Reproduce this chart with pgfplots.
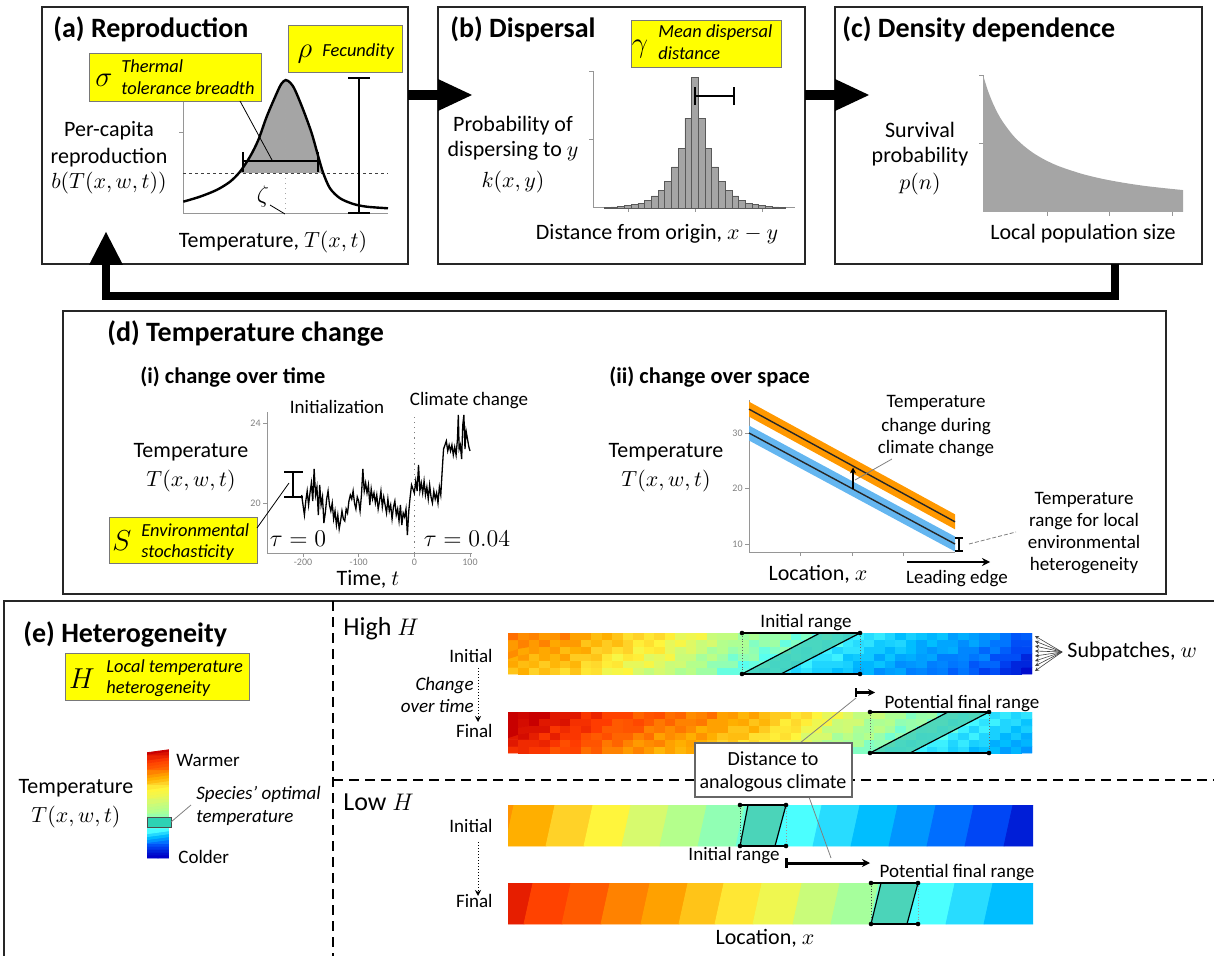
\documentclass[border=0pt]{standalone}
\usepackage{fontspec}
\setmainfont{Carlito}
\usepackage{pgfplots}
\pgfplotsset{compat=1.18}
\usepgfplotslibrary{patchplots}
\usetikzlibrary{arrows.meta}
\definecolor{fillgray}{RGB}{165,165,165}
\definecolor{ybox}{RGB}{255,255,0}
\definecolor{yedge}{RGB}{120,120,120}
\definecolor{bandblue}{RGB}{100,182,240}
\definecolor{bandorange}{RGB}{255,152,0}
\definecolor{rangeteal}{RGB}{70,205,180}
\definecolor{optteal}{RGB}{45,210,180}
\definecolor{axgray}{RGB}{150,150,150}
\pgfplotsset{
  colormap={hjet}{rgb255(0cm)=(0,0,200) rgb255(0.5cm)=(0,30,215) rgb255(1cm)=(0,70,245) rgb255(1.5cm)=(0,110,255) rgb255(2cm)=(0,150,255) rgb255(2.5cm)=(0,190,255) rgb255(3cm)=(40,220,255) rgb255(3.5cm)=(75,255,255) rgb255(4cm)=(145,255,180) rgb255(4.5cm)=(180,255,140) rgb255(5cm)=(215,250,110) rgb255(5.5cm)=(255,245,60) rgb255(6cm)=(255,210,40) rgb255(6.5cm)=(255,175,0) rgb255(7cm)=(255,140,0) rgb255(7.5cm)=(255,90,0) rgb255(8cm)=(255,60,0) rgb255(8.5cm)=(230,30,0) rgb255(9cm)=(200,0,0)},
  mini/.style={scale only axis, axis lines=left, axis line style={-, draw=axgray, line width=0.5pt},
    tick style={draw=axgray, line width=0.4pt}, tick align=outside, major tick length=2pt,
    clip=false, xticklabels={}, yticklabels={},
    ticklabel style={font=\fontsize{5}{6}\selectfont, text=gray, inner sep=1pt}},
  hm/.style={scale only axis, hide axis, colormap name=hjet, point meta min=0, point meta max=9},
}
\newcommand\ft{\fontsize{14}{16}\selectfont\bfseries}
\newcommand\fsub{\fontsize{11.2}{13}\selectfont\bfseries}
\newcommand\fl{\fontsize{11}{13}\selectfont}
\newcommand\fs{\fontsize{9.5}{11}\selectfont}
\newcommand\fy{\fontsize{9.2}{11}\selectfont\itshape}
\newcommand\fg{\fontsize{15}{17}\selectfont}
\tikzset{px/.style={x=0.5pt, y=-0.5pt}, L/.style={inner sep=0pt, anchor=base}, LW/.style={inner sep=0pt, anchor=base west},
  LE/.style={inner sep=0pt, anchor=base east}, yb/.style={fill=ybox, draw=yedge, line width=0.5pt}}
\begin{document}
\begin{tikzpicture}
\useasboundingbox (0pt,0pt) rectangle (607pt,-478pt);

% ================= (a) axis =================
\begin{axis}[mini, at={(91.5pt,-107pt)}, anchor=south west, width=102.5pt, height=57pt,
  xmin=0, xmax=10, ymin=0, ymax=1, xtick=\empty, ytick={0.72}]
\addplot[draw=none, fill=fillgray, smooth] coordinates {(2.78,0.36) (3.268,0.503) (3.673,0.649) (4.083,0.854) (4.571,1.059) (4.79,1.14) (5.010,1.175) (5.24,1.15) (5.463,1.088) (5.868,0.912) (6.278,0.708) (6.600,0.503) (6.844,0.36)} -- cycle;
\draw[gray!70, dotted, line width=0.5pt] (axis cs:5.01,0) -- (axis cs:5.01,1.17);
\draw[black!75, dash pattern=on 1.5pt off 1.5pt, line width=0.4pt] (axis cs:0,0.36) -- (axis cs:10,0.36);
\addplot[black, line width=1.2pt, smooth] coordinates {(0.015,0.108) (0.829,0.152) (1.644,0.211) (2.293,0.283) (2.780,0.371) (3.268,0.503) (3.673,0.649) (4.083,0.854) (4.571,1.059) (4.79,1.14) (5.010,1.175) (5.24,1.15) (5.463,1.088) (5.868,0.912) (6.278,0.708) (6.600,0.503) (6.844,0.357) (7.171,0.225) (7.659,0.138) (8.307,0.088) (8.961,0.064) (10.0,0.050)};
\draw[line width=1.1pt] (axis cs:2.93,0.465) -- (axis cs:6.585,0.465);
\draw[line width=1.1pt] (axis cs:2.93,0.37) -- (axis cs:2.93,0.54);
\draw[line width=1.1pt] (axis cs:6.585,0.37) -- (axis cs:6.585,0.54);
\draw[line width=1pt] (axis cs:8.585,0.01) -- (axis cs:8.585,1.193);
\draw[line width=1pt] (axis cs:8.05,0.01) -- (axis cs:9.12,0.01);
\draw[line width=1pt] (axis cs:8.05,1.193) -- (axis cs:9.12,1.193);
\end{axis}

% ================= (b) axis =================
\begin{axis}[mini, at={(296.5pt,-104pt)}, anchor=south west, width=101pt, height=68.5pt,
  xmin=-15.2, xmax=14.9, ymin=0, ymax=1.046, xtick={-10,0,10}, ytick={0.52,1.046}]
\addplot[ybar, bar width=1, fill=fillgray, draw=black!65, line width=0.35pt] coordinates {(-13,0.005) (-12,0.008) (-11,0.012) (-10,0.018) (-9,0.027) (-8,0.038) (-7,0.061) (-6,0.092) (-5,0.137) (-4,0.206) (-3,0.313) (-2,0.458) (-1,0.687) (0,1.0) (1,0.687) (2,0.458) (3,0.313) (4,0.206) (5,0.137) (6,0.092) (7,0.061) (8,0.038) (9,0.027) (10,0.018) (11,0.012) (12,0.008) (13,0.005)};
\draw[line width=1pt] (axis cs:0,0.855) -- (axis cs:5.8,0.855);
\draw[line width=1pt] (axis cs:0,0.786) -- (axis cs:0,0.924);
\draw[line width=1pt] (axis cs:5.8,0.786) -- (axis cs:5.8,0.924);
\end{axis}

% ================= (c) axis =================
\begin{axis}[mini, at={(491.5pt,-106pt)}, anchor=south west, width=100pt, height=68.5pt,
  xmin=0, xmax=1, ymin=0, ymax=1, xtick={0.32,0.63,0.945}, ytick={0.5,1}]
\addplot[fill=fillgray, draw=none, smooth] coordinates {(0,1) (0.025,0.884) (0.05,0.792) (0.075,0.717) (0.1,0.656) (0.15,0.559) (0.2,0.488) (0.25,0.432) (0.3,0.388) (0.35,0.352) (0.4,0.323) (0.5,0.276) (0.6,0.241) (0.7,0.214) (0.8,0.192) (0.9,0.175) (1,0.16)} \closedcycle;
\end{axis}

% ================= (d)(i) axis =================
\begin{axis}[mini, at={(133.5pt,-276.5pt)}, anchor=south west, width=102.5pt, height=70.5pt,
  xmin=-264.7, xmax=103.6, ymin=17.5, ymax=24.55, xtick={-200,-100,0,100}, ytick={20,24},
  xticklabels={-200,-100,0,100}, yticklabels={20,24}]
\draw[gray, dotted, line width=0.6pt] (axis cs:0,17.5) -- (axis cs:0,24.4);
\addplot[black, line width=0.65pt] table {
-202.5 20.4
-200 19.9
-197.5 19.4
-195 20.1
-192.5 20.6
-190 19.9
-187.5 20.5
-185 21.0
-182.5 20.1
-180 21.7
-177.5 20.4
-175 20.8
-172.5 19.4
-170 20.9
-167.5 19.9
-165 20.3
-162.5 19.0
-160 19.5
-157.5 20.2
-155 20.6
-152.5 19.9
-150 19.6
-147.5 20.0
-145 19.2
-142.5 19.6
-140 18.9
-137.5 19.4
-135 18.7
-132.5 19.1
-130 19.6
-127.5 19.2
-125 19.1
-122.5 19.7
-120 19.5
-117.5 20.1
-115 20.4
-112.5 20.2
-110 20.6
-107.5 20.0
-105 19.7
-102.5 20.3
-100 20.1
-97.5 19.6
-95 20.4
-92.5 21.7
-90 20.6
-87.5 21.0
-85 20.5
-82.5 20.9
-80 19.9
-77.5 20.7
-75 20.2
-72.5 20.5
-70 20.0
-67.5 20.4
-65 19.7
-62.5 20.1
-60 20.6
-57.5 19.8
-55 20.3
-52.5 19.9
-50 19.5
-47.5 20.2
-45 19.6
-42.5 19.9
-40 19.2
-37.5 19.8
-35 20.1
-32.5 19.4
-30 19.7
-27.5 19.1
-25 19.9
-22.5 18.9
-20 19.5
-17.5 19.3
-15 19.7
-12.5 18.4
-10 19.6
-7.5 20.3
-5 20.9
-2.5 20.7
0 20.5
2.5 21.1
5 20.6
7.5 21.9
10 20.6
12.5 21.0
15 20.5
17.5 21.1
20 20.4
22.5 20.8
25 20.2
27.5 20.9
30 20.3
32.5 20.0
35 20.6
37.5 20.2
40 20.5
42.5 20.0
45 20.8
47.5 20.4
50 21.6
52.5 22.7
55 22.9
57.5 23.1
60 22.6
62.5 22.9
65 22.6
67.5 22.9
70 22.4
72.5 22.8
75 22.4
77.5 23.2
79 24.4
80.5 22.7
82.5 22.9
85 22.2
87 23.9
89 24.4
91 22.7
93 23.6
95.5 23.2
98 22.8
100 22.6
};
\draw[line width=1.2pt] (axis cs:-218,20.3) -- (axis cs:-218,21.55);
\draw[line width=1.2pt] (axis cs:-234,20.3) -- (axis cs:-200,20.3);
\draw[line width=1.2pt] (axis cs:-234,21.55) -- (axis cs:-200,21.55);
\end{axis}

% ================= (d)(ii) axis =================
\begin{axis}[mini, at={(374.5pt,-276pt)}, anchor=south west, width=103pt, height=76pt,
  xmin=0, xmax=4, ymin=8.56, ymax=35.95, xtick={1,2,3}, ytick={10,20,30}, yticklabels={10,20,30}]
\addplot[fill=bandorange, draw=none] coordinates {(0,35.65) (4,15.35) (4,12.65) (0,32.95)} -- cycle;
\addplot[fill=bandblue, draw=none] coordinates {(0,31.35) (4,11.35) (4,8.65) (0,28.65)} -- cycle;
\addplot[black!85, line width=0.7pt] coordinates {(0,34.3) (4,14)};
\addplot[black!85, line width=0.7pt] coordinates {(0,30) (4,10)};
\draw[-{Stealth[length=3pt,width=3pt]}, line width=0.6pt] (axis cs:2.02,19.9) -- (axis cs:2.02,23.8);
\draw[line width=1.2pt] (axis cs:4.08,8.74) -- (axis cs:4.08,11.08);
\draw[line width=1.2pt] (axis cs:4.0,8.74) -- (axis cs:4.16,8.74);
\draw[line width=1.2pt] (axis cs:4.0,11.08) -- (axis cs:4.16,11.08);
\end{axis}

% ================= colorbar =================
\begin{axis}[hm, at={(73.5pt,-429pt)}, anchor=south west, width=11pt, height=54.5pt,
  xmin=-0.5, xmax=1.5, ymin=-0.5, ymax=36.5]
\addplot[matrix plot*, mesh/cols=2, point meta=explicit] table[x expr={mod(\coordindex,2)}, y expr={floor(\coordindex/2)}, meta index=0, header=false, row sep=\\] {
0\\0\\0.25\\0.25\\0.55\\0.55\\0.85\\0.85\\1.15\\1.15\\1.55\\1.55\\2.0\\2.0\\2.45\\2.45\\2.95\\2.95\\3.45\\3.45\\
3.6\\3.6\\3.7\\3.7\\3.8\\3.8\\3.95\\3.95\\4.1\\4.1\\4.3\\4.3\\4.5\\4.5\\4.65\\4.65\\4.8\\4.8\\5.0\\5.0\\
5.15\\5.15\\5.3\\5.3\\5.4\\5.4\\5.5\\5.5\\5.7\\5.7\\6.0\\6.0\\6.3\\6.3\\6.5\\6.5\\6.8\\6.8\\7.1\\7.1\\
7.4\\7.4\\7.6\\7.6\\7.8\\7.8\\8.1\\8.1\\8.4\\8.4\\8.7\\8.7\\9.0\\9.0\\
};
\end{axis}

% ================= High H initial =================
\begin{axis}[hm, at={(254pt,-337pt)}, anchor=south west, width=262pt, height=20.5pt,
  xmin=-0.5, xmax=49.5, ymin=-0.5, ymax=5.5]
\addplot[matrix plot*, mesh/cols=50, point meta=explicit] table[x expr={mod(\coordindex,50)}, y expr={floor(\coordindex/50)}, meta index=0, header=false, row sep=\\] {
6.2\\6.5\\6.0\\6.3\\6.1\\5.8\\6.2\\5.7\\5.8\\5.3\\5.4\\5.5\\5.0\\4.7\\5.0\\4.8\\4.4\\4.6\\4.2\\4.2\\3.7\\3.7\\3.7\\3.4\\3.1\\3.5\\3.2\\2.9\\3.1\\2.8\\2.8\\2.5\\2.7\\2.3\\2.4\\1.9\\2.1\\2.2\\1.7\\1.8\\1.6\\1.7\\1.3\\1.6\\1.3\\0.9\\1.1\\0.7\\0.6\\0.2\\
6.6\\6.3\\6.4\\6.1\\6.4\\6.2\\6.4\\5.8\\5.9\\5.6\\5.7\\5.2\\5.2\\5.4\\5.1\\4.8\\4.9\\4.5\\4.5\\4.0\\4.0\\4.0\\3.6\\3.7\\3.8\\3.4\\3.4\\3.0\\3.3\\2.9\\2.9\\2.9\\2.8\\2.4\\2.4\\2.6\\2.3\\1.9\\2.0\\2.1\\1.7\\1.8\\1.6\\1.7\\1.2\\1.4\\1.4\\0.9\\0.6\\0.6\\
6.5\\6.8\\6.3\\6.6\\6.4\\6.7\\6.1\\6.1\\6.2\\5.7\\5.4\\5.7\\5.6\\5.1\\5.2\\5.4\\4.8\\4.8\\4.3\\4.6\\4.2\\3.8\\4.0\\4.1\\3.6\\3.6\\3.3\\3.6\\3.4\\3.1\\3.1\\3.3\\2.6\\2.7\\2.7\\2.2\\2.6\\2.2\\2.3\\2.1\\2.2\\1.7\\1.7\\1.8\\1.6\\1.8\\1.1\\1.1\\1.1\\0.6\\
7.0\\6.6\\6.8\\6.6\\6.8\\6.3\\6.5\\6.6\\6.0\\6.1\\5.8\\6.0\\5.4\\5.6\\5.7\\5.2\\4.9\\5.1\\4.8\\4.3\\4.5\\4.1\\4.3\\4.0\\3.7\\3.9\\4.0\\3.5\\3.3\\3.6\\3.3\\2.9\\3.1\\3.1\\2.7\\2.7\\2.4\\2.7\\2.5\\2.2\\2.0\\2.2\\2.3\\1.8\\1.8\\1.4\\1.7\\1.3\\1.0\\1.0\\
6.8\\7.1\\6.8\\7.1\\6.6\\6.8\\6.8\\6.2\\6.4\\6.1\\6.3\\6.0\\5.6\\5.8\\5.5\\5.2\\5.4\\5.1\\4.8\\5.0\\4.5\\4.4\\4.4\\3.9\\4.1\\4.2\\3.7\\3.9\\3.6\\3.6\\3.3\\3.6\\3.2\\3.0\\3.1\\2.7\\2.8\\2.9\\2.5\\2.2\\2.5\\2.2\\2.2\\1.9\\2.2\\1.9\\1.6\\1.6\\1.1\\1.1\\
7.3\\7.0\\7.1\\6.8\\6.9\\7.2\\6.7\\6.7\\6.3\\6.5\\6.2\\5.8\\6.0\\5.7\\5.9\\5.6\\5.2\\5.3\\5.4\\4.8\\4.7\\4.7\\4.2\\4.4\\4.1\\4.1\\4.2\\3.7\\3.9\\3.6\\3.9\\3.5\\3.1\\3.3\\3.0\\3.2\\2.9\\2.5\\2.8\\2.6\\2.4\\2.6\\2.1\\2.3\\2.1\\1.9\\2.0\\1.6\\1.2\\1.3\\
};
\end{axis}
% ================= High H final =================
\begin{axis}[hm, at={(254pt,-376.5pt)}, anchor=south west, width=262pt, height=20.5pt,
  xmin=-0.5, xmax=49.5, ymin=-0.5, ymax=5.5]
\addplot[matrix plot*, mesh/cols=50, point meta=explicit] table[x expr={mod(\coordindex,50)}, y expr={floor(\coordindex/50)}, meta index=0, header=false, row sep=\\] {
8.2\\8.3\\8.1\\8.1\\7.6\\7.8\\7.9\\7.3\\7.5\\7.1\\7.1\\6.8\\7.1\\6.8\\6.4\\6.7\\6.4\\6.6\\6.1\\6.2\\5.9\\6.0\\5.6\\5.7\\5.7\\5.1\\5.1\\5.2\\4.9\\4.5\\4.6\\4.2\\4.4\\3.9\\3.9\\3.9\\3.4\\3.4\\3.6\\3.3\\3.0\\3.2\\2.8\\3.0\\2.4\\2.6\\2.5\\2.1\\2.4\\2.0\\
8.6\\8.3\\8.3\\8.4\\8.1\\7.7\\8.0\\7.6\\7.6\\7.2\\7.4\\7.1\\6.8\\7.0\\7.1\\6.7\\6.5\\6.7\\6.5\\6.3\\6.0\\6.2\\5.7\\5.9\\5.6\\5.8\\5.4\\5.1\\5.2\\4.8\\4.4\\4.5\\4.3\\4.4\\3.9\\4.0\\4.1\\3.6\\3.3\\3.6\\3.3\\3.3\\2.9\\3.2\\2.8\\2.9\\2.3\\2.5\\2.2\\2.4\\
8.6\\8.8\\8.5\\8.1\\8.5\\8.1\\8.1\\7.7\\7.5\\7.7\\7.4\\7.4\\7.1\\7.3\\6.7\\7.0\\6.8\\6.5\\6.9\\6.5\\6.2\\6.3\\6.3\\5.8\\5.8\\5.6\\5.8\\5.5\\5.0\\5.0\\5.0\\4.3\\4.6\\4.3\\4.5\\4.1\\3.8\\4.0\\3.8\\3.3\\3.4\\3.6\\3.2\\2.9\\3.3\\2.9\\2.8\\2.4\\2.7\\2.3\\
9.0\\8.7\\8.7\\8.7\\8.1\\8.3\\8.1\\8.3\\8.0\\7.5\\7.5\\7.6\\7.6\\7.1\\7.2\\7.0\\7.2\\7.0\\6.5\\6.7\\6.7\\6.2\\6.2\\6.5\\6.1\\5.7\\5.7\\5.8\\5.3\\5.3\\4.7\\4.8\\4.9\\4.4\\4.3\\4.6\\4.3\\3.8\\4.1\\3.7\\3.8\\3.4\\3.7\\3.3\\2.9\\3.3\\2.8\\2.9\\2.5\\2.8\\
9.1\\8.8\\9.0\\8.6\\8.6\\8.7\\8.2\\8.2\\8.0\\8.0\\7.5\\7.6\\7.8\\7.5\\7.2\\7.4\\7.1\\7.1\\7.2\\6.7\\6.7\\6.5\\6.6\\6.2\\6.4\\6.1\\5.6\\5.9\\5.6\\5.3\\5.4\\4.8\\4.9\\4.9\\4.3\\4.4\\4.5\\4.0\\4.1\\4.2\\3.8\\3.8\\3.3\\3.6\\3.4\\3.1\\3.3\\2.9\\3.0\\2.6\\
9.3\\8.9\\9.0\\9.0\\8.6\\8.6\\8.6\\8.1\\8.4\\7.9\\7.9\\7.9\\7.4\\7.6\\7.7\\7.3\\7.4\\7.0\\7.1\\7.3\\6.7\\6.8\\6.4\\6.7\\6.3\\6.1\\6.1\\5.7\\5.9\\5.5\\5.2\\5.4\\5.1\\4.7\\4.7\\4.8\\4.4\\4.4\\3.9\\4.1\\4.2\\3.7\\3.8\\3.5\\3.8\\3.4\\3.0\\3.2\\2.9\\3.1\\
};
\end{axis}
% ================= Low H initial =================
\begin{axis}[hm, at={(254pt,-423pt)}, anchor=south west, width=262.5pt, height=20.5pt,
  xmin=508, xmax=1033, ymin=0, ymax=1]
\addplot[patch, patch type=rectangle, shader=flat, point meta=explicit] coordinates {
(486,0)[6.9] (505,0)[6.9] (514,1)[6.9] (495,1)[6.9]
(505,0)[6.5] (546,0)[6.5] (555,1)[6.5] (514,1)[6.5]
(546,0)[6.0] (584,0)[6.0] (593,1)[6.0] (555,1)[6.0]
(584,0)[5.5] (622,0)[5.5] (631,1)[5.5] (593,1)[5.5]
(622,0)[5.0] (660,0)[5.0] (669,1)[5.0] (631,1)[5.0]
(660,0)[4.5] (698,0)[4.5] (707,1)[4.5] (669,1)[4.5]
(698,0)[4.0] (736,0)[4.0] (745,1)[4.0] (707,1)[4.0]
(736,0)[3.75] (775,0)[3.75] (784,1)[3.75] (745,1)[3.75]
(775,0)[3.5] (813,0)[3.5] (822,1)[3.5] (784,1)[3.5]
(813,0)[3.0] (851,0)[3.0] (860,1)[3.0] (822,1)[3.0]
(851,0)[2.5] (889,0)[2.5] (898,1)[2.5] (860,1)[2.5]
(889,0)[2.0] (927,0)[2.0] (936,1)[2.0] (898,1)[2.0]
(927,0)[1.5] (965,0)[1.5] (974,1)[1.5] (936,1)[1.5]
(965,0)[1.0] (1004,0)[1.0] (1013,1)[1.0] (974,1)[1.0]
(1004,0)[0.5] (1041,0)[0.5] (1050,1)[0.5] (1013,1)[0.5]
};
\end{axis}
% ================= Low H final =================
\begin{axis}[hm, at={(254pt,-462pt)}, anchor=south west, width=262.5pt, height=20.5pt,
  xmin=508, xmax=1033, ymin=0, ymax=1]
\addplot[patch, patch type=rectangle, shader=flat, point meta=explicit] coordinates {
(486,0)[8.5] (524,0)[8.5] (533,1)[8.5] (495,1)[8.5]
(524,0)[7.9] (562,0)[7.9] (571,1)[7.9] (533,1)[7.9]
(562,0)[7.5] (601,0)[7.5] (610,1)[7.5] (571,1)[7.5]
(601,0)[7.1] (641,0)[7.1] (650,1)[7.1] (610,1)[7.1]
(641,0)[6.7] (679,0)[6.7] (688,1)[6.7] (650,1)[6.7]
(679,0)[6.2] (715,0)[6.2] (724,1)[6.2] (688,1)[6.2]
(715,0)[5.7] (753,0)[5.7] (762,1)[5.7] (724,1)[5.7]
(753,0)[5.3] (793,0)[5.3] (802,1)[5.3] (762,1)[5.3]
(793,0)[4.8] (831,0)[4.8] (840,1)[4.8] (802,1)[4.8]
(831,0)[4.3] (870,0)[4.3] (879,1)[4.3] (840,1)[4.3]
(870,0)[3.75] (908,0)[3.75] (917,1)[3.75] (879,1)[3.75]
(908,0)[3.5] (946,0)[3.5] (955,1)[3.5] (917,1)[3.5]
(946,0)[3.0] (984,0)[3.0] (993,1)[3.0] (955,1)[3.0]
(984,0)[2.5] (1041,0)[2.5] (1050,1)[2.5] (993,1)[2.5]
};
\end{axis}

% ================= all annotations in pixel coordinates =================
\begin{scope}[px]
% boxes and arrows
\draw[line width=1.2pt, black!85] (42,7) rectangle (408,264);
\draw[line width=1.2pt, black!85] (438,7) rectangle (805,264);
\draw[line width=1.2pt, black!85] (835,7) rectangle (1202,264);
\draw[line width=1.2pt, black!85] (63,311) rectangle (1166,594);
\draw[line width=1.2pt, black!85] (4,962) -- (4,601) -- (1220,601);
\fill (408,90) rectangle (439,100);
\fill (438,79) -- (472,95) -- (438,111) -- cycle;
\fill (805,90) rectangle (836,100);
\fill (835,79) -- (869,95) -- (835,111) -- cycle;
\draw[line width=4pt, line join=miter] (1115,264) -- (1115,296) -- (106,296) -- (106,262);
\fill (89,265) -- (106,232) -- (123,265) -- cycle;

% (a)
\node[LW, font=\ft] at (53,38) {(a) Reproduction};
\draw[yb] (89,54) rectangle (261,102);
\node[L, font=\fg] at (104,87) {$\sigma$};
\node[LW, font=\fy] at (121,73) {Thermal};
\node[LW, font=\fy] at (121,95) {tolerance breadth};
\draw[line width=0.4pt] (240,101) -- (272,160);
\draw[yb] (288,26) rectangle (402,73);
\node[L, font=\fg] at (305,58) {$\rho$};
\node[LW, font=\fy] at (322,57) {Fecundity};
\node[L, font=\fontsize{12}{14}\selectfont] at (263,203) {$\zeta$};
\draw[line width=0.4pt] (270,205) -- (285,214);
\node[L, font=\fl] at (109,137) {Per-capita};
\node[L, font=\fl] at (109,164) {reproduction};
\node[L, font=\fl] at (109,189) {$b(T(x,w,t))$};
\node[L, font=\fl] at (273,248) {Temperature, $T(x,t)$};

% (b)
\node[LW, font=\ft] at (450,38) {(b) Dispersal};
\draw[yb] (631,21) rectangle (781,68);
\node[L, font=\fg] at (640,53) {$\gamma$};
\node[LW, font=\fy] at (658,38) {Mean dispersal};
\node[LW, font=\fy] at (658,60) {distance};
\node[L, font=\fl] at (513,132) {Probability of};
\node[L, font=\fl] at (513,157) {dispersing to $y$};
\node[L, font=\fl] at (513,188) {$k(x,y)$};
\node[L, font=\fl] at (657,240) {Distance from origin, $x-y$};

% (c)
\node[LW, font=\ft] at (842,38) {(c) Density dependence};
\node[L, font=\fl] at (920,138) {Survival};
\node[L, font=\fl] at (920,163) {probability};
\node[L, font=\fl] at (920,190) {$p(n)$};
\node[L, font=\fl] at (1083,240) {Local population size};

% (d)
\node[LW, font=\ft] at (107,342) {(d) Temperature change};
\node[LW, font=\fsub] at (140,384) {(i) change over time};
\node[LW, font=\fsub] at (609,384) {(ii) change over space};
\node[L, font=\fl] at (191,458) {Temperature};
\node[L, font=\fl] at (191,487) {$T(x,w,t)$};
\node[L, font=\fs] at (337,414) {Initialization};
\node[L, font=\fs] at (469,406) {Climate change};
\node[L, font=\fontsize{11.5}{13}\selectfont] at (298,546) {$\tau=0$};
\node[L, font=\fontsize{11.5}{13}\selectfont] at (467,546) {$\tau=0.04$};
\node[L, font=\fl] at (368,585) {Time, $t$};
\draw[yb] (109,517) rectangle (257,563);
\node[L, font=\fontsize{14}{16}\selectfont] at (122,550) {$S$};
\node[LW, font=\fy] at (141,536) {Environmental};
\node[LW, font=\fy] at (141,557) {stochasticity};
\draw[line width=0.4pt] (257,528) -- (289,483);
\node[L, font=\fl] at (666,458) {Temperature};
\node[L, font=\fl] at (666,487) {$T(x,w,t)$};
\node[L, font=\fs] at (936,408) {Temperature};
\node[L, font=\fs] at (936,432) {change during};
\node[L, font=\fs] at (936,454) {climate change};
\draw[gray, line width=0.4pt] (892,459) -- (855,480);
\draw[gray, dash pattern=on 2pt off 1pt, line width=0.4pt] (969,544) -- (1016,532);
\node[L, font=\fs] at (1084,504) {Temperature};
\node[L, font=\fs] at (1084,526) {range for local};
\node[L, font=\fs] at (1084,548) {environmental};
\node[L, font=\fs] at (1084,570) {heterogeneity};
\draw[-{Stealth[length=4pt,width=4pt]}, line width=1.1pt] (907,562) -- (990,562);
\node[L, font=\fs] at (957,583) {Leading edge};
\node[L, font=\fl] at (818,580) {Location, $x$};

% (e)
\node[LW, font=\ft] at (23,642) {(e) Heterogeneity};
\draw[yb] (65,653) rectangle (249,700);
\node[L, font=\fontsize{14}{16}\selectfont] at (82,688) {$H$};
\node[LW, font=\fy] at (106,672) {Local temperature};
\node[LW, font=\fy] at (106,693) {heterogeneity};
\node[L, font=\fl] at (76,793) {Temperature};
\node[L, font=\fl] at (76,822) {$T(x,w,t)$};
\draw[fill=optteal, draw=black!70, line width=0.5pt] (147,817) rectangle (171,827);
\draw[gray, line width=0.4pt] (171,822) -- (191,805);
\node[LW, font=\fs] at (176,766) {Warmer};
\node[LW, font=\fs] at (178,863) {Colder};
\node[LW, font=\fs\itshape] at (196,799) {Species’ optimal};
\node[LW, font=\fs\itshape] at (196,822) {temperature};

\draw[line width=1pt, dash pattern=on 5pt off 3pt] (333,601) -- (333,962);
\draw[line width=1pt, dash pattern=on 5pt off 3pt] (333,780) -- (1216,780);

\node[LW, font=\fontsize{13}{15}\selectfont] at (343,635) {High $H$};
\node[LW, font=\fontsize{13}{15}\selectfont] at (343,810) {Low $H$};

\node[LE, font=\fs] at (493,662) {Initial};
\node[LE, font=\fs] at (493,737) {Final};
\node[LE, font=\fs\itshape] at (474,690) {Change};
\node[LE, font=\fs\itshape] at (474,712) {over time};
\draw[densely dotted, -{Stealth[length=3pt,width=3pt]}, line width=0.5pt] (478,668) -- (478,722);
\node[LE, font=\fs] at (493,832) {Initial};
\node[LE, font=\fs] at (493,907) {Final};
\draw[densely dotted, -{Stealth[length=3pt,width=3pt]}, line width=0.5pt] (478,842) -- (478,896);

% High H ranges
\fill[rangeteal, opacity=0.8] (742,674) -- (820,633) -- (860,633) -- (781,674) -- cycle;
\draw[line width=0.6pt] (742,674) -- (820,633);
\draw[line width=0.6pt] (781,674) -- (860,633);
\draw[black!60, densely dotted, line width=0.4pt] (742,633) -- (742,674);
\draw[black!60, densely dotted, line width=0.4pt] (860,633) -- (860,674);
\draw[line width=1pt] (742,633) -- (860,633);
\draw[line width=1pt] (742,674) -- (860,674);
\foreach \p in {(742,633),(860,633),(742,674),(860,674)} \fill \p circle (2.3);
\node[L, font=\fs] at (806,627) {Initial range};

\fill[rangeteal, opacity=0.8] (870,753) -- (948,712) -- (989,712) -- (910,753) -- cycle;
\draw[line width=0.6pt] (870,753) -- (948,712);
\draw[line width=0.6pt] (910,753) -- (989,712);
\draw[black!60, densely dotted, line width=0.4pt] (870,712) -- (870,753);
\draw[black!60, densely dotted, line width=0.4pt] (989,712) -- (989,753);
\draw[line width=1pt] (870,712) -- (989,712);
\draw[line width=1pt] (870,753) -- (989,753);
\foreach \p in {(870,712),(989,712),(870,753),(989,753)} \fill \p circle (2.3);
\node[L, font=\fs] at (962,708) {Potential final range};

\draw[line width=1.2pt] (856,688) -- (856,697);
\draw[line width=1.2pt, -{Stealth[length=3.5pt,width=3.5pt]}] (856,692.5) -- (875,692.5);
\draw[gray, line width=0.4pt] (856,698) -- (800,743);

\foreach \yy in {636,641,646,651,656,661,666,671}
  \draw[black!75, line width=0.3pt, -{Stealth[length=2pt,width=2pt]}] (1062,652) -- (1035,\yy);
\node[LW, font=\fl] at (1067,657) {Subpatches, $w$};

% Low H ranges
\fill[rangeteal, opacity=0.85] (740,846) -- (748,805) -- (786,805) -- (775,846) -- cycle;
\draw[line width=0.6pt] (740,846) -- (748,805);
\draw[line width=0.6pt] (775,846) -- (786,805);
\draw[black!70, densely dotted, line width=0.4pt] (740,805) -- (740,846);
\draw[black!40, densely dotted, line width=0.4pt] (786,805) -- (786,846);
\draw[line width=1pt] (740,805) -- (786,805);
\draw[line width=1pt] (740,846) -- (786,846);
\foreach \p in {(740,805),(786,805),(740,846),(786,846)} \fill \p circle (2.3);
\node[L, font=\fs] at (734,860) {Initial range};

\fill[rangeteal, opacity=0.85] (871,924) -- (881,883) -- (918,883) -- (907,924) -- cycle;
\draw[line width=0.6pt] (871,924) -- (881,883);
\draw[line width=0.6pt] (907,924) -- (918,883);
\draw[black!70, densely dotted, line width=0.4pt] (871,883) -- (871,924);
\draw[black!40, densely dotted, line width=0.4pt] (918,883) -- (918,924);
\draw[line width=1pt] (871,883) -- (918,883);
\draw[line width=1pt] (871,924) -- (918,924);
\foreach \p in {(871,883),(918,883),(871,924),(918,924)} \fill \p circle (2.3);
\node[L, font=\fs] at (957,877) {Potential final range};

\draw[line width=1.5pt] (786,858) -- (786,868);
\draw[line width=1.5pt, -{Stealth[length=4pt,width=4pt]}] (786,863) -- (870,863);
\draw[gray, line width=0.4pt] (809,797) -- (831,858);

\draw[fill=white, draw=black!60, line width=0.6pt] (695,743) rectangle (852,797);
\node[L, font=\fontsize{10}{12}\selectfont] at (773,765) {Distance to};
\node[L, font=\fontsize{10}{12}\selectfont] at (773,788) {analogous climate};

\node[L, font=\fl] at (765,944) {Location, $x$};
\end{scope}
\end{tikzpicture}
\end{document}
